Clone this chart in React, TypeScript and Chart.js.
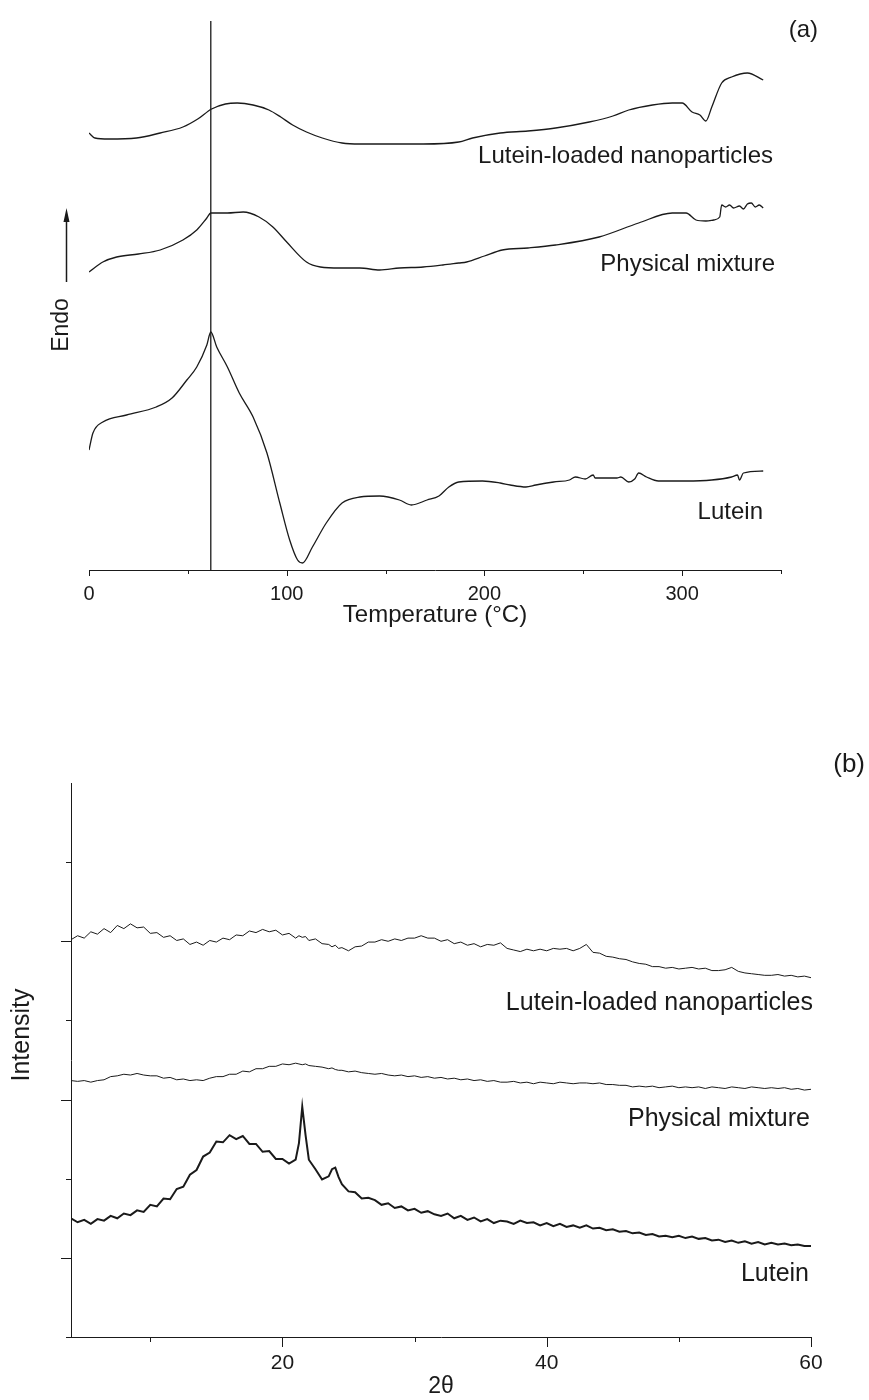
import React, { useEffect, useRef } from 'react';
import { Chart, registerables } from 'chart.js';

Chart.register(...registerables);

const FONT = '"Liberation Sans", Arial, Helvetica, sans-serif';
const INK = '#1a1a1a';

// ---------- (a) DSC thermograms ----------
const DSC_NANO_T = [0, 3, 10, 24, 36, 47.5, 55, 62, 69, 75, 83, 91, 97, 103, 110, 118, 128, 137, 150, 169, 187, 194, 208, 222, 236, 253, 265, 273, 285, 295, 300, 305, 309, 312, 315, 320, 325, 333, 341];
const DSC_NANO_V = [437, 432, 431, 432, 437, 443, 451, 461, 466, 467, 465, 460, 453, 445, 438, 432, 427, 426, 426, 426, 428, 432, 437, 439, 442, 448, 454, 460, 465, 467, 467, 458, 455, 449, 463, 487, 493, 497, 490];

const DSC_PHYS_T = [0, 7, 14, 25, 36, 47.5, 54.5, 59.6, 61.6, 70, 78, 86, 93, 100, 110, 117, 127, 137, 147, 157, 169, 179, 187, 191, 200, 209, 222, 236, 258, 278, 295, 302, 307, 312, 316, 319, 320, 322, 324, 326, 329, 331, 333, 335, 337, 339, 341];
const DSC_PHYS_V = [298, 308, 313, 316, 320, 330, 340, 352, 357, 357, 358, 353, 343, 328, 308, 303, 302, 302, 300, 302, 303, 305, 307, 308, 314, 320, 322, 325, 333, 347, 357, 357, 350, 349, 350, 353, 365, 363, 365, 362, 364, 361, 366, 367, 363, 365, 362];

const DSC_LUT_T = [0, 2, 7, 19, 34, 42, 49.5, 54.5, 59.6, 61.6, 64.6, 70, 76, 83, 90, 96.5, 101.5, 105.5, 108, 113, 120, 128, 137, 147, 157, 163, 171, 177, 182, 187, 199, 208, 213, 221, 226, 235, 243, 246, 251, 255, 256, 260, 267, 269, 273, 276, 278, 282, 288, 302, 315, 325, 328, 329, 331, 341];
const DSC_LUT_V = [120, 137, 148, 155, 163, 172, 190, 203, 225, 238, 223, 203, 177, 153, 117, 67, 30, 10, 7, 23, 47, 67, 73, 74, 70, 65, 70, 74, 83, 88, 89, 87, 85, 83, 85, 88, 90, 93, 91, 95, 92, 92, 92, 93, 88, 91, 97, 93, 89, 89, 90, 93, 95, 90, 97, 99];

const DSC_MARKER_T = 61.6;
const DSC_MARKER_SPAN = [0, 549];
const DSC_TICKS = [0, 50, 100, 150, 200, 250, 300, 350];
const DSC_MAJOR = [0, 100, 200, 300];

// ---------- (b) XRD patterns ----------
const XRD_2THETA = [
  4, 4.5, 5, 5.5, 6, 6.5, 7, 7.5, 8, 8.5,
  9, 9.5, 10, 10.5, 11, 11.5, 12, 12.5, 13, 13.5,
  14, 14.5, 15, 15.5, 16, 16.5, 17, 17.5, 18, 18.5,
  19, 19.5, 20, 20.5, 21, 21.25, 21.5, 21.75, 22, 22.5,
  23, 23.5, 23.75, 24, 24.25, 24.5, 25, 25.5, 26, 26.5,
  27, 27.5, 28, 28.5, 29, 29.5, 30, 30.5, 31, 31.5,
  32, 32.5, 33, 33.5, 34, 34.5, 35, 35.5, 36, 36.5,
  37, 37.5, 38, 38.5, 39, 39.5, 40, 40.5, 41, 41.5,
  42, 42.5, 43, 43.5, 44, 44.5, 45, 45.5, 46, 46.5,
  47, 47.5, 48, 48.5, 49, 49.5, 50, 50.5, 51, 51.5,
  52, 52.5, 53, 53.5, 54, 54.5, 55, 55.5, 56, 56.5,
  57, 57.5, 58, 58.5, 59, 59.5, 60,
];
const XRD_NANO = [
  5.02, 5.07, 5.04, 5.12, 5.09, 5.16, 5.11, 5.20, 5.16, 5.22,
  5.17, 5.18, 5.10, 5.11, 5.05, 5.07, 5.01, 5.03, 4.96, 4.99,
  4.95, 5.01, 4.99, 5.04, 5.02, 5.08, 5.07, 5.13, 5.11, 5.15,
  5.12, 5.14, 5.08, 5.10, 5.04, 5.07, 5.05, 5.06, 5.01, 5.03,
  4.97, 4.96, 4.93, 4.95, 4.91, 4.92, 4.88, 4.93, 4.94, 4.99,
  4.99, 5.02, 5.00, 5.03, 5.01, 5.04, 5.04, 5.07, 5.04, 5.04,
  5.00, 5.02, 4.97, 4.99, 4.95, 4.97, 4.93, 4.96, 4.95, 4.98,
  4.91, 4.89, 4.87, 4.90, 4.88, 4.90, 4.88, 4.91, 4.90, 4.91,
  4.88, 4.91, 4.96, 4.86, 4.85, 4.81, 4.80, 4.78, 4.77, 4.74,
  4.72, 4.71, 4.68, 4.68, 4.66, 4.67, 4.65, 4.66, 4.67, 4.65,
  4.66, 4.63, 4.63, 4.64, 4.67, 4.62, 4.60, 4.59, 4.58, 4.57,
  4.57, 4.58, 4.56, 4.57, 4.55, 4.56, 4.54,
];
const XRD_PHYS = [
  3.24, 3.23, 3.24, 3.22, 3.24, 3.25, 3.29, 3.30, 3.32, 3.31,
  3.33, 3.31, 3.30, 3.30, 3.27, 3.28, 3.25, 3.26, 3.24, 3.25,
  3.24, 3.27, 3.29, 3.29, 3.32, 3.32, 3.36, 3.35, 3.39, 3.39,
  3.42, 3.42, 3.45, 3.44, 3.46, 3.45, 3.44, 3.45, 3.43, 3.42,
  3.41, 3.39, 3.40, 3.38, 3.37, 3.37, 3.35, 3.36, 3.34, 3.33,
  3.32, 3.33, 3.31, 3.30, 3.31, 3.29, 3.30, 3.28, 3.29, 3.27,
  3.28, 3.26, 3.27, 3.25, 3.26, 3.24, 3.25, 3.23, 3.24, 3.22,
  3.22, 3.23, 3.21, 3.22, 3.20, 3.22, 3.21, 3.20, 3.22, 3.21,
  3.20, 3.21, 3.21, 3.20, 3.21, 3.19, 3.19, 3.18, 3.18, 3.16,
  3.17, 3.16, 3.17, 3.15, 3.16, 3.17, 3.15, 3.16, 3.15, 3.16,
  3.14, 3.16, 3.15, 3.14, 3.16, 3.15, 3.14, 3.16, 3.15, 3.14,
  3.15, 3.14, 3.15, 3.13, 3.14, 3.12, 3.13,
];
const XRD_LUTEIN = [
  1.50, 1.45, 1.48, 1.43, 1.49, 1.47, 1.53, 1.50, 1.56, 1.54,
  1.60, 1.58, 1.67, 1.65, 1.75, 1.74, 1.87, 1.90, 2.05, 2.11,
  2.28, 2.33, 2.47, 2.46, 2.55, 2.50, 2.54, 2.44, 2.44, 2.34,
  2.35, 2.25, 2.25, 2.19, 2.24, 2.45, 2.91, 2.55, 2.24, 2.12,
  1.99, 2.03, 2.12, 2.14, 2.02, 1.93, 1.84, 1.83, 1.75, 1.76,
  1.73, 1.67, 1.69, 1.63, 1.65, 1.60, 1.62, 1.57, 1.59, 1.55,
  1.53, 1.56, 1.50, 1.53, 1.48, 1.51, 1.46, 1.49, 1.44, 1.47,
  1.46, 1.43, 1.47, 1.44, 1.45, 1.41, 1.44, 1.40, 1.43, 1.39,
  1.41, 1.38, 1.41, 1.37, 1.38, 1.35, 1.36, 1.33, 1.34, 1.31,
  1.32, 1.29, 1.30, 1.27, 1.28, 1.26, 1.28, 1.25, 1.27, 1.24,
  1.25, 1.22, 1.23, 1.20, 1.22, 1.19, 1.21, 1.18, 1.20, 1.17,
  1.19, 1.17, 1.18, 1.16, 1.17, 1.15, 1.15,
];
const XRD_X_TICKS = [10, 20, 30, 40, 50, 60];
const XRD_X_MAJOR = [20, 40, 60];
const XRD_Y_TICKS = [0, 1, 2, 3, 4, 5, 6];
const XRD_Y_MAJOR = [1, 3, 5];

const pts = (xs: number[], ys: number[]) => xs.map((x, i) => ({ x, y: ys[i] }));

type Note = { text: string; x: number; y: number; size: number; rotate?: boolean };

function ticksPlugin(o: {
  xMajor: number[]; xMajorLen: number; xMinorLen: number;
  yTicks?: number[]; yMajor?: number[]; yMajorLen?: number; yMinorLen?: number;
}) {
  return {
    id: 'manualTicks',
    afterDraw(chart: any) {
      const { ctx, chartArea } = chart;
      const xs = chart.scales.x;
      ctx.save();
      ctx.strokeStyle = INK;
      ctx.lineWidth = 1;
      xs.ticks.forEach((t: any) => {
        const px = Math.round(xs.getPixelForValue(t.value)) + 0.5;
        const len = o.xMajor.includes(t.value) ? o.xMajorLen : o.xMinorLen;
        ctx.beginPath();
        ctx.moveTo(px, chartArea.bottom);
        ctx.lineTo(px, chartArea.bottom + len);
        ctx.stroke();
      });
      if (o.yTicks) {
        const ys = chart.scales.y;
        o.yTicks.forEach((v) => {
          const py = Math.round(ys.getPixelForValue(v)) + 0.5;
          const len = o.yMajor!.includes(v) ? o.yMajorLen! : o.yMinorLen!;
          ctx.beginPath();
          ctx.moveTo(chartArea.left, py);
          ctx.lineTo(chartArea.left - len, py);
          ctx.stroke();
        });
      }
      ctx.restore();
    },
  };
}

function notesPlugin(notes: Note[], extra?: (ctx: CanvasRenderingContext2D) => void) {
  return {
    id: 'notes',
    afterDraw(chart: any) {
      const ctx: CanvasRenderingContext2D = chart.ctx;
      ctx.save();
      ctx.fillStyle = INK;
      notes.forEach((n) => {
        ctx.font = `${n.size}px ${FONT}`;
        if (n.rotate) {
          ctx.save();
          ctx.translate(n.x, n.y);
          ctx.rotate(-Math.PI / 2);
          ctx.textAlign = 'center';
          ctx.textBaseline = 'middle';
          ctx.fillText(n.text, 0, 0);
          ctx.restore();
        } else {
          ctx.textAlign = 'right';
          ctx.textBaseline = 'alphabetic';
          ctx.fillText(n.text, n.x, n.y);
        }
      });
      if (extra) extra(ctx);
      ctx.restore();
    },
  };
}

const lineStyle = (w: number) => ({
  borderColor: INK,
  borderWidth: w,
  pointRadius: 0,
  fill: false,
});

function buildDsc(): any {
  return {
    type: 'line',
    data: {
      datasets: [
        { label: 'Lutein-loaded nanoparticles', data: pts(DSC_NANO_T, DSC_NANO_V), ...lineStyle(1.3), cubicInterpolationMode: 'monotone' },
        { label: 'Physical mixture', data: pts(DSC_PHYS_T, DSC_PHYS_V), ...lineStyle(1.3), cubicInterpolationMode: 'monotone' },
        { label: 'Lutein', data: pts(DSC_LUT_T, DSC_LUT_V), ...lineStyle(1.3), cubicInterpolationMode: 'monotone' },
        { label: 'marker', data: DSC_MARKER_SPAN.map((y) => ({ x: DSC_MARKER_T, y })), ...lineStyle(1.3), tension: 0 },
      ],
    },
    options: {
      responsive: false,
      animation: false,
      layout: { padding: { left: 89, right: 88, top: 20, bottom: 0 } },
      plugins: { legend: { display: false }, tooltip: { enabled: false } },
      scales: {
        x: {
          type: 'linear',
          min: 0,
          max: 350,
          afterBuildTicks: (s: any) => { s.ticks = DSC_TICKS.map((v) => ({ value: v })); },
          afterFit: (s: any) => { s.height = 70; },
          grid: { display: true, drawOnChartArea: false, drawTicks: true, tickLength: 6, tickColor: 'rgba(0,0,0,0)' },
          border: { display: true, color: INK, width: 1 },
          ticks: {
            autoSkip: false, maxRotation: 0, padding: 6, color: INK,
            font: { family: FONT, size: 20 },
            callback: (v: number) => (DSC_MAJOR.includes(v) ? String(v) : ''),
          },
          title: {
            display: true, text: 'Temperature (°C)', color: INK,
            font: { family: FONT, size: 24 }, padding: { top: 0, bottom: 10 },
          },
        },
        y: { type: 'linear', display: false, min: 0, max: 550 },
      },
    },
    plugins: [
      ticksPlugin({ xMajor: DSC_MAJOR, xMajorLen: 6, xMinorLen: 4 }),
      notesPlugin(
        [
          { text: 'Lutein-loaded nanoparticles', x: 773, y: 163, size: 24 },
          { text: 'Physical mixture', x: 775, y: 271, size: 24 },
          { text: 'Lutein', x: 763, y: 519, size: 24 },
          { text: '(a)', x: 818, y: 37, size: 24 },
          { text: 'Endo', x: 62, y: 325, size: 23, rotate: true },
        ],
        (ctx) => {
          ctx.strokeStyle = INK;
          ctx.lineWidth = 1.5;
          ctx.beginPath();
          ctx.moveTo(66.5, 282);
          ctx.lineTo(66.5, 218);
          ctx.stroke();
          ctx.beginPath();
          ctx.moveTo(66.5, 208);
          ctx.lineTo(63.5, 222);
          ctx.lineTo(69.5, 222);
          ctx.closePath();
          ctx.fill();
        },
      ),
    ],
  };
}

function buildXrd(): any {
  return {
    type: 'line',
    data: {
      datasets: [
        { label: 'Lutein-loaded nanoparticles', data: pts(XRD_2THETA, XRD_NANO), ...lineStyle(1), tension: 0 },
        { label: 'Physical mixture', data: pts(XRD_2THETA, XRD_PHYS), ...lineStyle(1), tension: 0 },
        { label: 'Lutein', data: pts(XRD_2THETA, XRD_LUTEIN), ...lineStyle(2), tension: 0 },
      ],
    },
    options: {
      responsive: false,
      animation: false,
      layout: { padding: { left: 0, right: 58, top: 83, bottom: 0 } },
      plugins: { legend: { display: false }, tooltip: { enabled: false } },
      scales: {
        x: {
          type: 'linear',
          min: 4,
          max: 60,
          afterBuildTicks: (s: any) => { s.ticks = XRD_X_TICKS.map((v) => ({ value: v })); },
          afterFit: (s: any) => { s.height = 63; },
          grid: { display: true, drawOnChartArea: false, drawTicks: true, tickLength: 10, tickColor: 'rgba(0,0,0,0)' },
          border: { display: true, color: INK, width: 1 },
          ticks: {
            autoSkip: false, maxRotation: 0, padding: 4, color: INK,
            font: { family: FONT, size: 21 },
            callback: (v: number) => (XRD_X_MAJOR.includes(v) ? String(v) : ''),
          },
          title: {
            display: true, text: '2θ', color: INK,
            font: { family: FONT, size: 23 }, padding: { top: 0, bottom: 0 },
          },
        },
        y: {
          type: 'linear',
          min: 0,
          max: 7,
          afterBuildTicks: (s: any) => { s.ticks = XRD_Y_TICKS.map((v) => ({ value: v })); },
          afterFit: (s: any) => { s.width = 71; },
          grid: { display: true, drawOnChartArea: false, drawTicks: false },
          border: { display: true, color: INK, width: 1 },
          ticks: { display: false },
        },
      },
    },
    plugins: [
      ticksPlugin({
        xMajor: XRD_X_MAJOR, xMajorLen: 10, xMinorLen: 5,
        yTicks: XRD_Y_TICKS, yMajor: XRD_Y_MAJOR, yMajorLen: 10, yMinorLen: 5,
      }),
      notesPlugin([
        { text: 'Lutein-loaded nanoparticles', x: 813, y: 310, size: 25 },
        { text: 'Physical mixture', x: 810, y: 426, size: 25 },
        { text: 'Lutein', x: 809, y: 581, size: 25 },
        { text: '(b)', x: 865, y: 72, size: 26 },
        { text: 'Intensity', x: 22, y: 335, size: 25, rotate: true },
      ]),
    ],
  };
}

export default function App() {
  const aRef = useRef<HTMLCanvasElement>(null);
  const bRef = useRef<HTMLCanvasElement>(null);

  useEffect(() => {
    const a = new Chart(aRef.current as HTMLCanvasElement, buildDsc());
    const b = new Chart(bRef.current as HTMLCanvasElement, buildXrd());
    return () => {
      a.destroy();
      b.destroy();
    };
  }, []);

  return (
    <div style={{ position: 'absolute', left: 0, top: 0, width: 869, height: 1400, background: '#fff', overflow: 'hidden' }}>
      <canvas ref={aRef} width={869} height={640} style={{ position: 'absolute', left: 0, top: 0 }} />
      <canvas ref={bRef} width={869} height={700} style={{ position: 'absolute', left: 0, top: 700 }} />
    </div>
  );
}
